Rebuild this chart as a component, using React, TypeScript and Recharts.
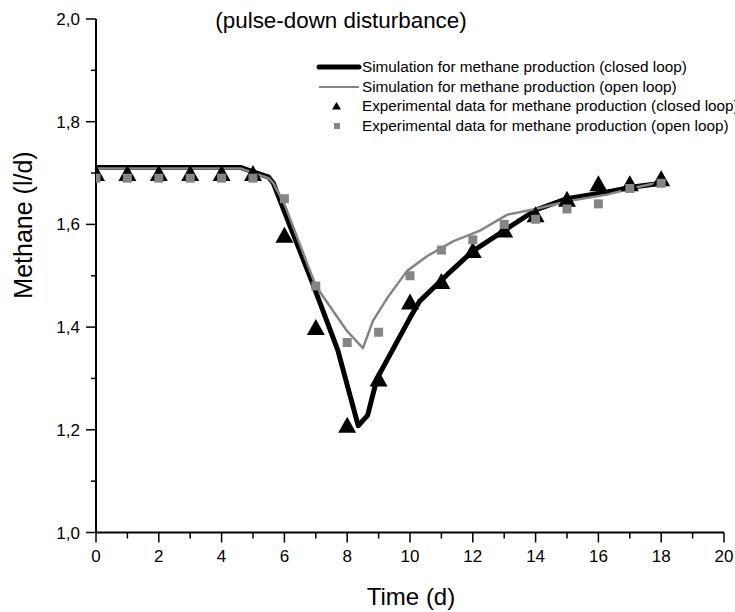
import { ComposedChart, Line, Scatter, XAxis, YAxis, Legend } from 'recharts';

// experimental points, one per day
const expDays = [0, 1, 2, 3, 4, 5, 6, 7, 8, 9, 10, 11, 12, 13, 14, 15, 16, 17, 18];
const expClosed = [1.7, 1.7, 1.7, 1.7, 1.7, 1.7, 1.58, 1.4, 1.21, 1.3, 1.45, 1.49, 1.55, 1.59, 1.62, 1.65, 1.68, 1.68, 1.69];
const expOpen = [1.69, 1.69, 1.69, 1.69, 1.69, 1.69, 1.65, 1.48, 1.37, 1.39, 1.5, 1.55, 1.57, 1.6, 1.61, 1.63, 1.64, 1.67, 1.68];

// simulation curves (irregular time steps)
const simClosedDays = [0, 4.6, 5.5, 5.65, 6.0, 6.9, 7.7, 8.35, 8.65, 8.95, 10.0, 10.3, 11.2, 12.0, 13.1, 14.0, 15.0, 16.0, 17.1, 18.0];
const simClosed = [1.711, 1.711, 1.692, 1.68, 1.625, 1.485, 1.355, 1.208, 1.228, 1.3, 1.418, 1.45, 1.503, 1.548, 1.592, 1.628, 1.65, 1.66, 1.673, 1.68];
const simOpenDays = [0, 4.6, 5.5, 5.65, 6.0, 7.0, 8.0, 8.5, 8.82, 9.27, 9.9, 10.54, 11.37, 12.23, 13.1, 14.0, 15.0, 16.27, 17.1, 18.05];
const simOpen = [1.709, 1.709, 1.69, 1.68, 1.64, 1.48, 1.392, 1.359, 1.412, 1.456, 1.509, 1.538, 1.567, 1.588, 1.619, 1.63, 1.645, 1.658, 1.671, 1.683];

const xTicks = [0, 1, 2, 3, 4, 5, 6, 7, 8, 9, 10, 11, 12, 13, 14, 15, 16, 17, 18, 19, 20];
const yTicks = [1.0, 1.1, 1.2, 1.3, 1.4, 1.5, 1.6, 1.7, 1.8, 1.9, 2.0];

const legendLabels = [
  'Simulation for methane production (closed loop)',
  'Simulation for methane production (open loop)',
  'Experimental data for methane production (closed loop)',
  'Experimental data for methane production (open loop)',
];

const zip = (ts: number[], vs: number[]) => ts.map((t, i) => ({ t, v: vs[i] }));

const closedSimData = zip(simClosedDays, simClosed);
const openSimData = zip(simOpenDays, simOpen);
const closedExpData = zip(expDays, expClosed);
const openExpData = zip(expDays, expOpen);

const GRAY = '#858585';
const FONT = '"Liberation Sans", Arial, sans-serif';

function XTick({ x, y, payload }: any) {
  const v = payload.value;
  const major = v % 2 === 0;
  const axisY = y - 12;
  return (
    <g>
      <line x1={x} x2={x} y1={axisY} y2={axisY + (major ? 10 : 6)} stroke="#000" strokeWidth={1.5} />
      {major && (
        <text x={x} y={y + 17} textAnchor="middle" fontSize={17} fill="#000">
          {v}
        </text>
      )}
    </g>
  );
}

function YTick({ x, y, payload }: any) {
  const v = payload.value;
  const major = Math.round(v * 10) % 2 === 0;
  return (
    <g>
      <line x1={x + (major ? 6 : 11)} x2={x + 16} y1={y} y2={y} stroke="#000" strokeWidth={1.5} />
      {major && (
        <text x={x} y={y + 6} textAnchor="end" fontSize={17} fill="#000">
          {v.toFixed(1).replace('.', ',')}
        </text>
      )}
    </g>
  );
}

const Triangle = ({ cx, cy }: any) => (
  <polygon points={`${cx},${cy - 8} ${cx - 9},${cy + 8} ${cx + 9},${cy + 8}`} fill="#000" />
);

const Square = ({ cx, cy }: any) => <rect x={cx - 4.5} y={cy - 4.5} width={9} height={9} fill={GRAY} />;

function legendIcon(i: number) {
  if (i === 0) return <line x1={3} x2={43} y1={10} y2={10} stroke="#000" strokeWidth={5} strokeLinecap="round" />;
  if (i === 1) return <line x1={3} x2={43} y1={10} y2={10} stroke={GRAY} strokeWidth={2} />;
  if (i === 2) return <polygon points="20.5,6 16,13.5 25,13.5" fill="#000" />;
  return <rect x={18} y={7} width={6} height={6} fill={GRAY} />;
}

function LegendBox() {
  return (
    <div style={{ fontSize: 15.3, whiteSpace: 'nowrap', color: '#000' }}>
      {legendLabels.map((label, i) => (
        <div key={label} style={{ display: 'flex', alignItems: 'center', height: 19.7 }}>
          <svg width={46} height={20} style={{ flex: 'none' }}>
            {legendIcon(i)}
          </svg>
          <span>{label}</span>
        </div>
      ))}
    </div>
  );
}

export default function App() {
  return (
    <div
      style={{
        position: 'absolute',
        left: 0,
        top: 0,
        width: 735,
        height: 612,
        overflow: 'hidden',
        background: '#fff',
        fontFamily: FONT,
      }}
    >
      <ComposedChart width={735} height={612} margin={{ top: 19, right: 11, bottom: 0, left: 0 }}>
        <XAxis
          type="number"
          dataKey="t"
          domain={[0, 20]}
          ticks={xTicks}
          interval={0}
          height={79.5}
          tickSize={10}
          tickMargin={2}
          tickLine={false}
          tick={<XTick />}
          axisLine={{ stroke: '#000', strokeWidth: 2 }}
          allowDataOverflow
        />
        <YAxis
          type="number"
          dataKey="v"
          domain={[1, 2]}
          ticks={yTicks}
          interval={0}
          width={96}
          tickSize={10}
          tickMargin={6}
          tickLine={false}
          tick={<YTick />}
          axisLine={{ stroke: '#000', strokeWidth: 2 }}
          allowDataOverflow
        />
        <Line
          data={closedSimData}
          dataKey="v"
          type="linear"
          stroke="#000"
          strokeWidth={5}
          strokeLinejoin="round"
          dot={false}
          activeDot={false}
          isAnimationActive={false}
        />
        <Line
          data={openSimData}
          dataKey="v"
          type="linear"
          stroke={GRAY}
          strokeWidth={2.5}
          strokeLinejoin="round"
          dot={false}
          activeDot={false}
          isAnimationActive={false}
        />
        <Scatter data={closedExpData} dataKey="v" shape={Triangle} isAnimationActive={false} />
        <Scatter data={openExpData} dataKey="v" shape={Square} isAnimationActive={false} />
        <Legend
          layout="horizontal"
          verticalAlign="middle"
          align="center"
          content={<LegendBox />}
          wrapperStyle={{ top: 57, left: 316, width: 419 }}
        />
        <text x={341} y={28} textAnchor="middle" fontSize={22.4} fill="#000">
          (pulse-down disturbance)
        </text>
        <text x={411} y={605} textAnchor="middle" fontSize={24} fill="#000">
          Time (d)
        </text>
        <text x={32} y={225} textAnchor="middle" fontSize={25} fill="#000" transform="rotate(-90 32 225)">
          Methane (l/d)
        </text>
      </ComposedChart>
    </div>
  );
}
